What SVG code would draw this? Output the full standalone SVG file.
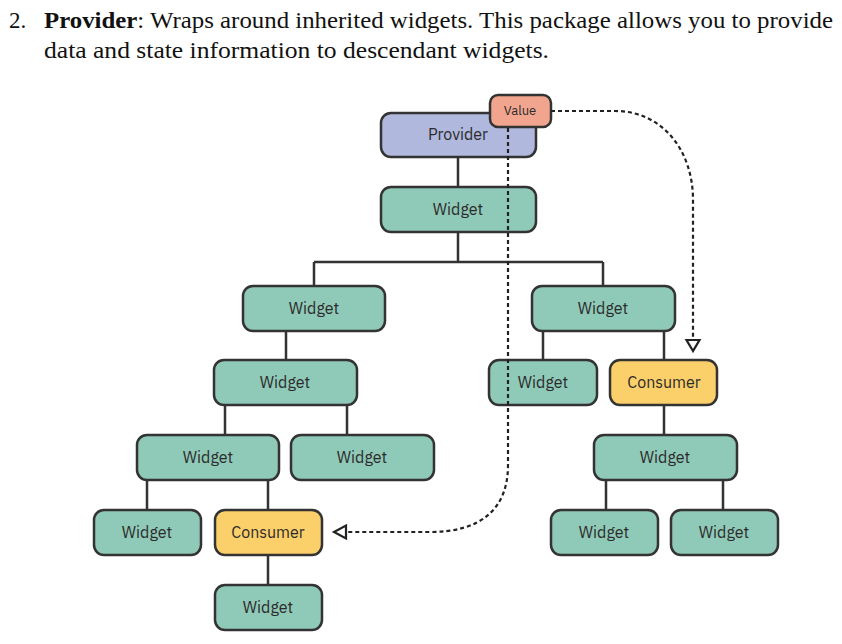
<svg xmlns="http://www.w3.org/2000/svg" width="842" height="644" viewBox="0 0 842 644">
<style>
.n rect{stroke:#333;stroke-width:2.5}
.w rect{fill:#8fc9b7}
.c rect{fill:#fbcf6a}
.p rect{fill:#b0b8de}
.v rect{fill:#f2a58e}
.n text{font-family:"IBM Plex Sans","Noto Sans","Open Sans",sans-serif;font-size:16px;fill:#2b2b2b;text-anchor:middle;dominant-baseline:central}
.v text{font-size:13px}
.t{font-family:"Liberation Serif",serif;font-size:23px;fill:#111}
.line{stroke:#333;stroke-width:2.5;fill:none}
.dot{stroke:#222;stroke-width:2.2;fill:none;stroke-dasharray:4 3}
.arr{fill:#fff;stroke:#222;stroke-width:2.2}
</style>
<rect width="842" height="644" fill="#fff"/>
<text class="t" x="9" y="28">2.</text>
<text class="t" x="44" y="28" textLength="789" lengthAdjust="spacingAndGlyphs"><tspan font-weight="bold">Provider</tspan>: Wraps around inherited widgets. This package allows you to provide</text>
<text class="t" x="44" y="58" textLength="505" lengthAdjust="spacingAndGlyphs">data and state information to descendant widgets.</text>

<g id="tree-lines">
<path class="line" d="M458,157V187M458,232V262M314,262H603M314,262V286M603,262V286"/>
<path class="line" d="M286,331V360M225,405V435M347,405V435M147,480V510M268,480V510M268,555V585"/>
<path class="line" d="M543,331V360M664,331V360M664,405V435M606,480V510M723,480V510"/>
</g>

<g id="provider" class="n p"><rect x="381" y="113" width="155" height="44" rx="10"/><text x="458" y="134">Provider</text></g>
<g id="value" class="n v"><rect x="490" y="95" width="61" height="32" rx="8"/><text x="520" y="110.5">Value</text></g>
<g id="w1" class="n w"><rect x="381" y="187" width="155" height="45" rx="10"/><text x="458" y="209">Widget</text></g>
<g id="w2" class="n w"><rect x="243" y="286" width="142" height="45" rx="10"/><text x="314" y="308">Widget</text></g>
<g id="w3" class="n w"><rect x="532" y="286" width="143" height="45" rx="10"/><text x="603" y="308">Widget</text></g>
<g id="w4" class="n w"><rect x="214" y="360" width="143" height="45" rx="10"/><text x="285" y="382">Widget</text></g>
<g id="w5" class="n w"><rect x="489" y="360" width="108" height="45" rx="10"/><text x="543" y="382">Widget</text></g>
<g id="consumer1" class="n c"><rect x="610" y="360" width="107" height="45" rx="10"/><text x="664" y="382">Consumer</text></g>
<g id="w6" class="n w"><rect x="137" y="435" width="142" height="45" rx="10"/><text x="208" y="457">Widget</text></g>
<g id="w7" class="n w"><rect x="291" y="435" width="143" height="45" rx="10"/><text x="362" y="457">Widget</text></g>
<g id="w8" class="n w"><rect x="594" y="435" width="143" height="45" rx="10"/><text x="665" y="457">Widget</text></g>
<g id="w9" class="n w"><rect x="94" y="510" width="107" height="45" rx="10"/><text x="147" y="532">Widget</text></g>
<g id="consumer2" class="n c"><rect x="215" y="510" width="107" height="45" rx="10"/><text x="268" y="532">Consumer</text></g>
<g id="w10" class="n w"><rect x="551" y="510" width="107" height="45" rx="10"/><text x="604" y="532">Widget</text></g>
<g id="w11" class="n w"><rect x="671" y="510" width="107" height="45" rx="10"/><text x="724" y="532">Widget</text></g>
<g id="w12" class="n w"><rect x="215" y="585" width="107" height="45" rx="10"/><text x="268" y="607">Widget</text></g>

<g id="value-flow">
<path class="dot" d="M508,128V465C508,510 480,532 430,532H347"/>
<polygon class="arr" points="334,532 346,525.5 346,538.5"/>
<path class="dot" d="M551,111H615C662,111 693,150 693,200V339"/>
<polygon class="arr" points="693,351 686.5,340 699.5,340"/>
</g>
</svg>
